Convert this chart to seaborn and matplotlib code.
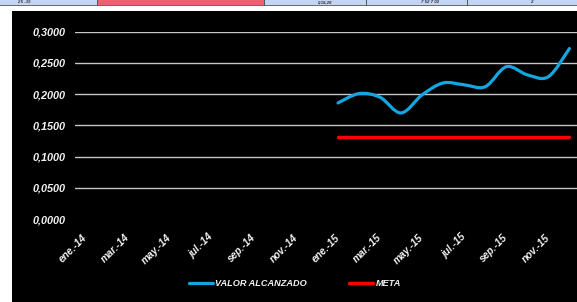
import numpy as np
import matplotlib
matplotlib.use("Agg")
import matplotlib.pyplot as plt
import seaborn as sns
from matplotlib.patches import Rectangle, PathPatch
from matplotlib.path import Path
from matplotlib.lines import Line2D

# --- data ---
months = ["ene.-14", "feb.-14", "mar.-14", "abr.-14", "may.-14", "jun.-14",
          "jul.-14", "ago.-14", "sep.-14", "oct.-14", "nov.-14", "dic.-14",
          "ene.-15", "feb.-15", "mar.-15", "abr.-15", "may.-15", "jun.-15",
          "jul.-15", "ago.-15", "sep.-15", "oct.-15", "nov.-15", "dic.-15"]
tick_labels = ["ene.-14", "mar.-14", "may.-14", "jul.-14", "sep.-14", "nov.-14",
               "ene.-15", "mar.-15", "may.-15", "jul.-15", "sep.-15", "nov.-15"]
data_months = ["ene.-15", "feb.-15", "mar.-15", "abr.-15", "may.-15", "jun.-15",
               "jul.-15", "ago.-15", "sep.-15", "oct.-15", "nov.-15", "dic.-15"]
valor_alcanzado = [0.186, 0.201, 0.195, 0.170, 0.199, 0.218,
                   0.215, 0.212, 0.244, 0.231, 0.228, 0.273]
meta = [0.131, 0.131, 0.131, 0.131, 0.131, 0.131,
        0.131, 0.131, 0.131, 0.131, 0.131, 0.131]
y_ticks = [0.0, 0.05, 0.10, 0.15, 0.20, 0.25, 0.30]

BLUE = "#14a6e0"
RED = "#ff0000"

sns.set_style("dark")
plt.rcParams["font.family"] = ["Liberation Sans", "DejaVu Sans"]
plt.rcParams["font.weight"] = "bold"
plt.rcParams["font.style"] = "italic"

W, H = 577, 302
fig = plt.figure(figsize=(W / 100, H / 100), dpi=100)
fig.patch.set_facecolor("white")


def fig_rect(x, y, w, h, color):
    # rectangle in pixel units measured from the top-left corner
    fig.add_artist(Rectangle((x / W, 1 - (y + h) / H), w / W, h / H,
                             transform=fig.transFigure, facecolor=color,
                             edgecolor="none", zorder=-5))


# spreadsheet strip on top and the black chart area
fig_rect(0, 0, W, 4.5, "#c3d5f5")
fig_rect(97, 0, 167, 4.5, "#ee5f72")
fig_rect(0, 4.5, W, 1.5, "#6c6c6c")
for xd in [97, 264, 366, 467]:
    fig_rect(xd, 0, 1.2, 6, "#555555")
for xt, txt in [(17, "2.5 -15"), (318, "0,18,28"), (421, "7 52 7 02"), (530, "2")]:
    fig.text(xt / W, 1 - 2.2 / H, txt, fontsize=3.2, color="#333333",
             ha="left", va="center", zorder=-4)
fig_rect(12, 11, W - 12, H - 11, "black")

# plot area
ax = fig.add_axes([75 / W, 82.8 / H, 502 / W, 187.5 / H])
ax.patch.set_alpha(0)

x_of = {m: i for i, m in enumerate(months)}
xs = np.array([x_of[m] for m in data_months], dtype=float)
ys = np.array(valor_alcanzado)

# Excel-style smoothed line as a Bezier path through the data points
pts = np.column_stack([xs, ys])
verts = [pts[0]]
codes = [Path.MOVETO]
n = len(pts)
for i in range(n - 1):
    p0 = pts[max(i - 1, 0)]
    p1 = pts[i]
    p2 = pts[i + 1]
    p3 = pts[min(i + 2, n - 1)]
    verts += [p1 + (p2 - p0) / 6, p2 - (p3 - p1) / 6, p2]
    codes += [Path.CURVE4] * 3
ax.add_patch(PathPatch(Path(verts, codes), fill=False, edgecolor=BLUE, lw=2.3,
                       capstyle="round", joinstyle="round", zorder=3))

sns.lineplot(x=xs, y=meta, color=RED, lw=2.5, ax=ax, legend=False, zorder=3)
ax.lines[-1].set_solid_capstyle("round")

ax.set_xlim(-0.5, 23.36)
ax.set_ylim(0, 0.30)
ax.set_yticks(y_ticks)
ax.set_yticklabels([f"{v:.4f}".replace(".", ",") for v in y_ticks])
ax.set_xticks(range(0, 24, 2))
ax.set_xticklabels(tick_labels, rotation=45, ha="right", va="center",
                   rotation_mode="anchor")
ax.tick_params(axis="x", length=0, pad=12, labelsize=7.3, colors="#f2f2f2")
ax.tick_params(axis="y", length=0, pad=6.5, labelsize=7.8, colors="#f2f2f2")
for lab in ax.get_xticklabels() + ax.get_yticklabels():
    lab.set_fontweight("bold")
    lab.set_fontstyle("italic")

ax.grid(False)
for v in y_ticks[1:]:
    ax.axhline(v, color="#c4c6cc", lw=1.0, zorder=1)
for s in ax.spines.values():
    s.set_visible(False)
ax.set_xlabel("")
ax.set_ylabel("")

handles = [Line2D([], [], color=BLUE, lw=2.3), Line2D([], [], color=RED, lw=2.5)]
fig.legend(handles, ["VALOR ALCANZADO", "META"], loc="center",
           bbox_to_anchor=(295 / W, 1 - 284 / H), ncol=2, frameon=False,
           prop={"size": 6.6, "weight": "bold", "style": "italic"},
           labelcolor="#f2f2f2", handlelength=2.6, handletextpad=0.25,
           columnspacing=4.6)

fig.savefig("out.png", dpi=100, facecolor=fig.get_facecolor())
